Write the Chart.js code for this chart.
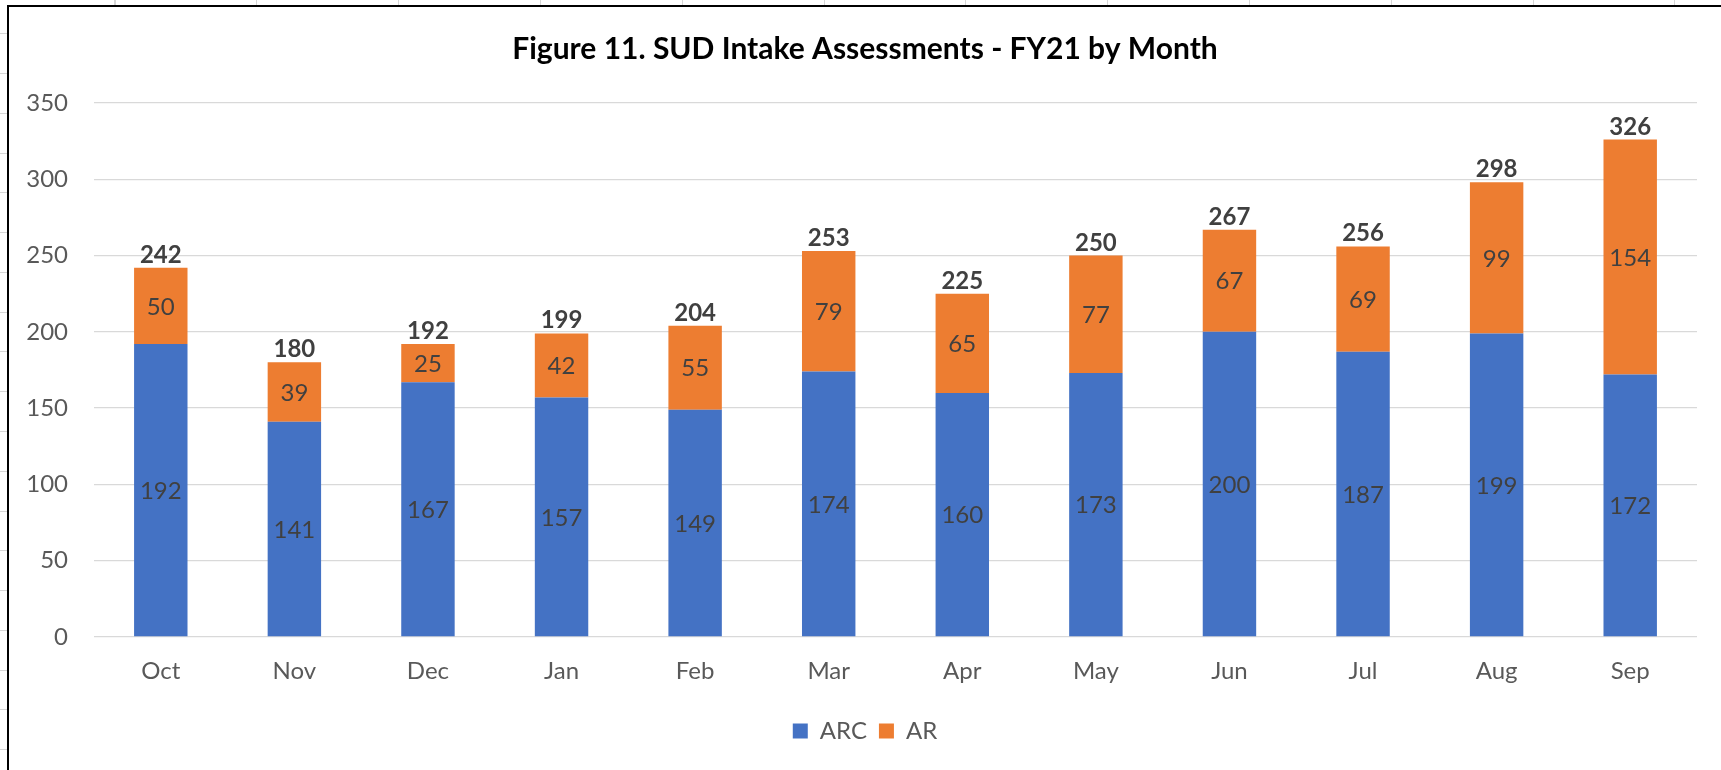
<!DOCTYPE html>
<html>
<head>
<meta charset="utf-8">
<script src="https://cdn.jsdelivr.net/npm/chart.js@4.4.1/dist/chart.umd.min.js"></script>
<style>
  html, body { margin: 0; padding: 0; }
  body {
    width: 1721px; height: 770px; overflow: hidden; position: relative;
    background-color: #fff;
    background-image:
      repeating-linear-gradient(90deg, transparent 0, transparent 114.5px, #d6d6d6 114.5px, #d6d6d6 115.5px, transparent 115.5px, transparent 141.8px),
      repeating-linear-gradient(180deg, transparent 0, transparent 33.2px, #d6d6d6 33.2px, #d6d6d6 34.2px, transparent 34.2px, transparent 39.78px);
  }
  #wrap {
    position: absolute; left: 7px; top: 5px;
    width: 1712px; height: 763px;
    border-left: 2px solid #000; border-top: 2px solid #000;
    background: #fff;
  }
  canvas { display: block; }
</style>
</head>
<body>
<div id="wrap"><canvas id="myChart" width="1712" height="763"></canvas></div>
<script>
// values
const months = ['Oct', 'Nov', 'Dec', 'Jan', 'Feb', 'Mar', 'Apr', 'May', 'Jun', 'Jul', 'Aug', 'Sep'];
const arcValues = [192, 141, 167, 157, 149, 174, 160, 173, 200, 187, 199, 172];
const arValues = [50, 39, 25, 42, 55, 79, 65, 77, 67, 69, 99, 154];
const totals = [242, 180, 192, 199, 204, 253, 225, 250, 267, 256, 298, 326];

const fontFamily = 'Lato, "Open Sans", sans-serif';
const labelSize = 24;

// draws the numbers inside each segment and the bold totals on top
const barLabelPlugin = {
  id: 'barLabels',
  afterDatasetsDraw(chart) {
    const { ctx, scales: { y } } = chart;
    ctx.save();
    ctx.textAlign = 'center';
    ctx.textBaseline = 'alphabetic';
    ctx.fillStyle = '#404040';
    ctx.font = labelSize + 'px ' + fontFamily;
    chart.data.datasets.forEach((dataset, index) => {
      const meta = chart.getDatasetMeta(index);
      meta.data.forEach((bar, j) => {
        const mid = (bar.y + bar.base) / 2;
        ctx.fillText(String(dataset.data[j]), bar.x, mid + labelSize * 0.36);
      });
    });
    const topMeta = chart.getDatasetMeta(1);
    ctx.font = 'bold ' + labelSize + 'px ' + fontFamily;
    totals.forEach((total, j) => {
      ctx.fillText(String(total), topMeta.data[j].x, y.getPixelForValue(total) - 5);
    });
    ctx.restore();
  }
};

const ctx = document.getElementById('myChart').getContext('2d');

const chart = new Chart(ctx, {
  type: 'bar',
  data: {
    labels: months,
    datasets: [
      { label: 'ARC', data: arcValues, backgroundColor: '#4472C4' },
      { label: 'AR', data: arValues, backgroundColor: '#ED7D31' }
    ]
  },
  options: {
    responsive: false,
    devicePixelRatio: 1,
    animation: false,
    datasets: {
      bar: { categoryPercentage: 1, barPercentage: 0.4 }
    },
    layout: { padding: { left: 0, right: 0, top: 0, bottom: 17 } },
    scales: {
      x: {
        stacked: true,
        grid: { display: false },
        border: { display: false },
        ticks: {
          color: '#595959',
          padding: 12,
          font: { family: fontFamily, size: 24 }
        },
        afterFit(scale) { scale.height = 70; }
      },
      y: {
        stacked: true,
        min: 0,
        max: 350,
        border: { display: false },
        grid: { color: '#d9d9d9', lineWidth: 1.3, drawTicks: false },
        ticks: {
          stepSize: 50,
          color: '#595959',
          padding: 26,
          font: { family: fontFamily, size: 24 }
        },
        afterFit(scale) { scale.width = 85; }
      },
      spacer: {
        position: 'right',
        display: true,
        grid: { display: false },
        border: { display: false },
        ticks: { display: false },
        afterFit(scale) { scale.width = 24; }
      }
    },
    plugins: {
      title: {
        display: true,
        text: 'Figure 11. SUD Intake Assessments - FY21 by Month',
        color: '#000',
        font: { family: fontFamily, size: 30, weight: 'bold' },
        padding: { top: 24, bottom: 36 }
      },
      legend: {
        position: 'bottom',
        labels: {
          color: '#595959',
          boxWidth: 15,
          boxHeight: 15,
          padding: 12,
          font: { family: fontFamily, size: 24 }
        }
      },
      tooltip: { enabled: false }
    }
  },
  plugins: [barLabelPlugin]
});
</script>
</body>
</html>
